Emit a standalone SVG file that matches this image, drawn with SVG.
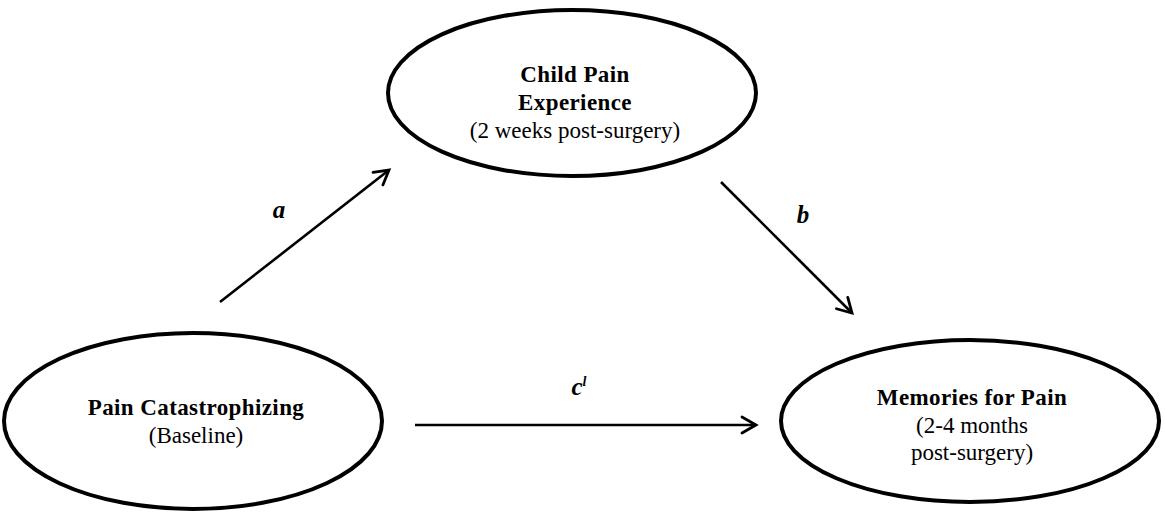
<svg xmlns="http://www.w3.org/2000/svg" width="1165" height="513" viewBox="0 0 1165 513">
<style>
.node ellipse{fill:#fff;stroke:#000;stroke-width:4}
text{font-family:"Liberation Serif","Times New Roman",serif;font-size:23px;fill:#000;text-anchor:middle}
.b{font-weight:bold;letter-spacing:0.4px}
.lbl{font-weight:bold;font-style:italic;font-size:25px}
.conn line{stroke:#000;stroke-width:2.6;fill:none}
</style>
<defs>
<marker id="arr" markerUnits="userSpaceOnUse" markerWidth="24" markerHeight="24" refX="17" refY="10" orient="auto">
<path d="M3,2 L17,10 L3,18" fill="none" stroke="#000" stroke-width="2.8" stroke-linecap="round" stroke-linejoin="miter"/>
</marker>
</defs>
<g id="node-child-pain" class="node">
<ellipse cx="572" cy="93" rx="184" ry="83"/>
<text x="575" y="82" class="b">Child Pain</text>
<text x="575" y="110" class="b">Experience</text>
<text x="575" y="138">(2 weeks post-surgery)</text>
</g>
<g id="node-catastrophizing" class="node">
<ellipse cx="193" cy="421" rx="189" ry="88"/>
<text x="196" y="415" class="b">Pain Catastrophizing</text>
<text x="196" y="443">(Baseline)</text>
</g>
<g id="node-memories" class="node">
<ellipse cx="970" cy="421" rx="189" ry="81"/>
<text x="972" y="405" class="b">Memories for Pain</text>
<text x="972" y="433">(2-4 months</text>
<text x="972" y="460">post-surgery)</text>
</g>
<g id="connectors" class="conn">
<line x1="220" y1="302" x2="389" y2="170" marker-end="url(#arr)"/>
<line x1="721" y1="182" x2="852" y2="313" marker-end="url(#arr)"/>
<line x1="415" y1="425" x2="756" y2="425" marker-end="url(#arr)"/>
<text x="279" y="218" class="lbl">a</text>
<text x="803" y="223" class="lbl">b</text>
<text x="579" y="395" class="lbl">c<tspan font-size="14" dy="-9">l</tspan></text>
</g>
</svg>
